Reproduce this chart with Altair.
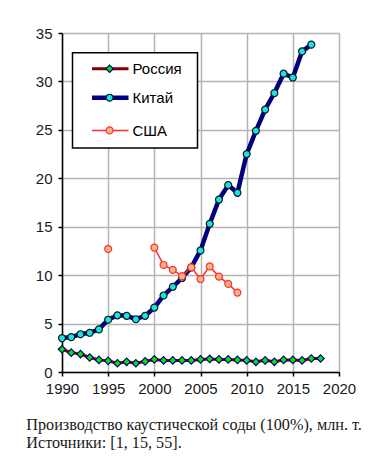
import altair as alt
import pandas as pd

# ---- data ----
years_ru = list(range(1990, 2019))
russia = [2.35, 2.0, 1.85, 1.5, 1.25, 1.15, 0.9, 1.05, 0.9, 1.1,
          1.3, 1.2, 1.2, 1.2, 1.2, 1.3, 1.35, 1.3, 1.3, 1.25,
          1.2, 1.05, 1.2, 1.05, 1.25, 1.25, 1.2, 1.4, 1.4]

years_cn = list(range(1990, 2018))
china = [3.5, 3.6, 3.9, 4.05, 4.4, 5.4, 5.85, 5.8, 5.45, 5.8,
         6.65, 7.9, 8.8, 9.7, 10.8, 12.55, 15.3, 17.8, 19.3, 18.5,
         22.5, 24.9, 27.1, 28.8, 30.8, 30.4, 33.1, 33.8]

years_us = [1995, 2000, 2001, 2002, 2003, 2004, 2005, 2006, 2007, 2008, 2009]
usa = [12.7, 12.85, 11.05, 10.55, 9.9, 10.8, 9.6, 10.9, 9.85, 9.1, 8.2]

series_names = ["Россия", "Китай", "США"]
x_ticks = [1990, 1995, 2000, 2005, 2010, 2015, 2020]
y_ticks = [0, 5, 10, 15, 20, 25, 30, 35]
caption_lines = ["Производство каустической соды (100%), млн. т.",
                 "Источники: [1, 15, 55]."]


def frame(name, years, vals):
    seg, s = [], 0
    for i, yr in enumerate(years):
        if i and yr - years[i - 1] > 1:
            s += 1
        seg.append(s)
    return pd.DataFrame({"year": years, "value": vals, "series": name, "seg": seg})


frames = {
    "Россия": frame("Россия", years_ru, russia),
    "Китай": frame("Китай", years_cn, china),
    "США": frame("США", years_us, usa),
}

styles = {
    "Россия": dict(line="#800000", lw=3, shape="diamond", fill="#00e600", stroke="#000080", sw=1.2, size=55),
    "Китай": dict(line="#000080", lw=4.5, shape="circle", fill="#19e3e3", stroke="#0a1a1a", sw=1.2, size=48),
    "США": dict(line="#ff2a2a", lw=1.5, shape="circle", fill="#ffb585", stroke="#ff3030", sw=1.2, size=48),
}

W, H = 277, 339

X = alt.X("year:Q", scale=alt.Scale(domain=[1990, 2020], nice=False, zero=False),
          axis=alt.Axis(values=x_ticks, format="d", title=None))
Y = alt.Y("value:Q", scale=alt.Scale(domain=[0, 35], nice=False),
          axis=alt.Axis(values=y_ticks, title=None))

layers = []
for name in series_names:
    st = styles[name]
    df = frames[name]
    layers.append(
        alt.Chart(df).mark_line(color=st["line"], strokeWidth=st["lw"])
        .encode(x=X, y=Y, detail="seg:N")
    )
    layers.append(
        alt.Chart(df).mark_point(shape=st["shape"], filled=True, fill=st["fill"],
                                 stroke=st["stroke"], strokeWidth=st["sw"],
                                 size=st["size"], opacity=1)
        .encode(x=X, y=Y)
    )

# ---- legend box (decoration) ----
one = pd.DataFrame({"k": [0]})
layers.append(
    alt.Chart(one).mark_rect(fill="white", stroke="#000000", strokeWidth=1.5)
    .encode(x=alt.value(10.5), x2=alt.value(135.5), y=alt.value(19.7), y2=alt.value(115))
)
leg_y = [35.7, 64.7, 97.4]
for name, ly in zip(series_names, leg_y):
    st = styles[name]
    ldf = pd.DataFrame({"label": [name]})
    layers.append(
        alt.Chart(ldf).mark_rule(color=st["line"], strokeWidth=st["lw"])
        .encode(x=alt.value(30), x2=alt.value(66.5), y=alt.value(ly))
    )
    layers.append(
        alt.Chart(ldf).mark_point(shape=st["shape"], filled=True, fill=st["fill"],
                                  stroke=st["stroke"], strokeWidth=st["sw"],
                                  size=st["size"], opacity=1)
        .encode(x=alt.value(47.6), y=alt.value(ly))
    )
    layers.append(
        alt.Chart(ldf).mark_text(align="left", baseline="middle", font="Liberation Sans",
                                 fontSize=15, color="#000000")
        .encode(x=alt.value(70.5), y=alt.value(ly + 0.5), text="label:N")
    )

# ---- caption ----
for i, line in enumerate(caption_lines):
    layers.append(
        alt.Chart(pd.DataFrame({"t": [line]})).mark_text(
            align="left", baseline="alphabetic", font="Liberation Serif",
            fontSize=16.2, color="#1a1a1a")
        .encode(x=alt.value(-35.7), y=alt.value(397.2 + 17.6 * i), text="t:N")
    )

chart = (
    alt.layer(*layers)
    .properties(width=W, height=H,
                autosize=alt.AutoSizeParams(type="none"),
                padding={"left": 54, "top": 25, "right": 367 - 54 - W, "bottom": 443 - 25 - H})
    .configure_view(stroke=None)
    .configure_axis(
        grid=True, gridColor="#b3b3b3", gridWidth=1.5,
        domainColor="#000000", domainWidth=1.5,
        tickColor="#000000", tickWidth=1.5, tickSize=4,
        labelFont="Liberation Sans", labelFontSize=15, labelColor="#1a1a1a",
        labelPadding=5, labelOverlap=False, labelFlush=False,
    )
    .configure_axisY(labelPadding=6)
)

chart.save("out.html", embed_options={"renderer": "svg", "actions": False})
